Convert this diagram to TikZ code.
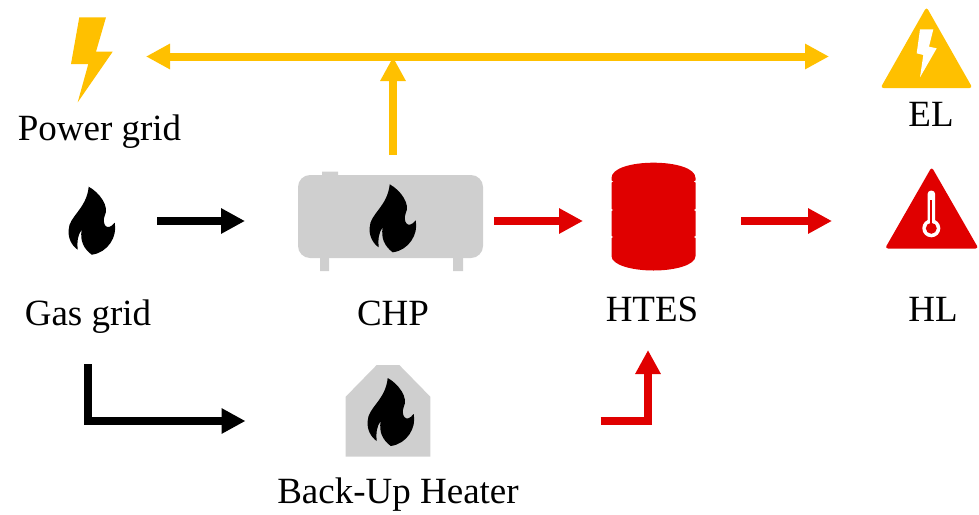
\documentclass[tikz,border=0pt]{standalone}
\usepackage{fontspec}
\setmainfont{Liberation Serif}
\usetikzlibrary{arrows.meta}
\definecolor{elcol}{HTML}{FFC000}
\definecolor{hlcol}{HTML}{E00000}
\definecolor{boxcol}{HTML}{CFCFCF}

\begin{document}
\begin{tikzpicture}[x=1pt, y=-1pt,
  hub/.style={inner sep=0pt, outer sep=0pt, minimum height=#1},
  lbl/.style={anchor=base, inner sep=0pt, font=\fontsize{37}{40}\selectfont},
  con/.style={line width=8pt, -{Triangle[length=24pt,width=24pt]}},
  flame/.pic={\fill[black] (-3,-34) .. controls (8,-28) and (18,-14) .. (13,-5) .. controls (10,3) and (15,12) .. (23,2) .. controls (26,16) and (16,32) .. (0,34) .. controls (-8,28) and (-12,20) .. (-10,9) .. controls (-14,14) and (-15,22) .. (-14,29) .. controls (-20,25) and (-24,17) .. (-23,9) .. controls (-23,-4) and (-5,-12) .. (-3,-34) -- cycle;}]
\useasboundingbox (0,0) rectangle (979,514);
\node[hub=100, minimum width=42] (pg) at (92,56.5) {};
\node[hub=80, minimum width=90] (el) at (926,56.5) {};
\node[hub=70, minimum width=48] (gas) at (92,221) {};
\node[hub=100, minimum width=185] (chp) at (393,221) {};
\node[hub=100, minimum width=84] (htes) at (653.5,221) {};
\node[hub=54, minimum width=91] (hl) at (931.5,221) {};
\node[hub=92, minimum width=85] (bkp) at (388,421) {};
\coordinate (tap) at (393,57);
\coordinate (htesin) at (648,350);
\node[lbl] (pgtxt) at (99.5,140) {Power grid};
\node[lbl] (eltxt) at (931,126) {EL};
\node[lbl] (gastxt) at (88,325) {Gas grid};
\node[lbl] (chptxt) at (393,325) {CHP};
\node[lbl] (htestxt) at (652,321) {HTES};
\node[lbl] (hltxt) at (933,321) {HL};
\node[lbl] (bkptxt) at (398,503) {Back-Up Heater};
\fill[elcol] (79.3,17.3) -- (106,17.3) -- (96,51.7) -- (112.7,51.7) -- (77.7,102.3) -- (88.3,64) -- (71,64) -- cycle;
\fill[elcol, rounded corners=3pt] (926.5,7) -- (972.5,88) -- (880.5,88) -- cycle;
\fill[white] (920,29.3) -- (933.3,29.3) -- (929,46.7) -- (936.7,48.3) -- (920,77.3) -- (923.3,55) -- (916.7,53.3) -- cycle;
\fill[hlcol, rounded corners=3pt] (931.7,167) -- (978.5,248.5) -- (885,248.5) -- cycle;
\fill[white, rounded corners=3pt] (927.7,228) -- (927.7,190.7) -- (935,190.7) -- (935,228) -- cycle;
\fill[white] (931.3,228.3) circle (9);
\fill[hlcol] (931.3,228.3) circle (5.5);
\draw[hlcol, line width=2pt] (931.3,200) -- (931.3,228);
\fill[boxcol, rounded corners=12pt] (298,175) rectangle (483,258);
\fill[boxcol] (322,171.5) rectangle (338,176) (320,257) rectangle (329,271) (453,257) rectangle (463,271);
\pic at (392.7,218.3) {flame};
\fill[boxcol] (345.7,456.7) -- (345.7,396.7) -- (376.7,365) -- (399.3,365) -- (430.3,396.7) -- (430.3,456.7) -- cycle;
\pic at (390.7,412) {flame};
\pic at (91.7,220.7) {flame};
\fill[hlcol] (611.5,178) .. controls (611.5,168) and (632,162.7) .. (653.5,162.7) .. controls (675,162.7) and (695.5,168) .. (695.5,178) -- (695.5,256) .. controls (695.5,265) and (675,270.5) .. (653.5,270.5) .. controls (632,270.5) and (611.5,265) .. (611.5,256) -- cycle;
\foreach \ny in {181.5,210,237} {
  \fill[white] (610.5,\ny-1.5) -- (613,\ny) -- (610.5,\ny+1.5) -- cycle;
  \fill[white] (696.5,\ny-1.5) -- (694,\ny) -- (696.5,\ny+1.5) -- cycle;
}
\draw[con, elcol, {Triangle[length=24pt,width=24pt]}-{Triangle[length=24pt,width=24pt]}, shorten <=33pt, shorten >=52pt] (pg) -- (el);
\draw[con, elcol, shorten <=16pt] (chp.north) -- (tap);
\draw[con, shorten <=31pt, shorten >=100pt] (gastxt.south) |- (bkp);
\draw[con, shorten <=41pt, shorten >=55.5pt] (gas) -- (chp);
\draw[con, hlcol, shorten <=8.5pt, shorten >=28.5pt] (chp) -- (htes);
\draw[con, hlcol, shorten <=45.5pt, shorten >=54pt] (htes) -- (hl);
\draw[con, hlcol, shorten <=170pt] (bkp) -| (htesin);
\end{tikzpicture}
\end{document}
